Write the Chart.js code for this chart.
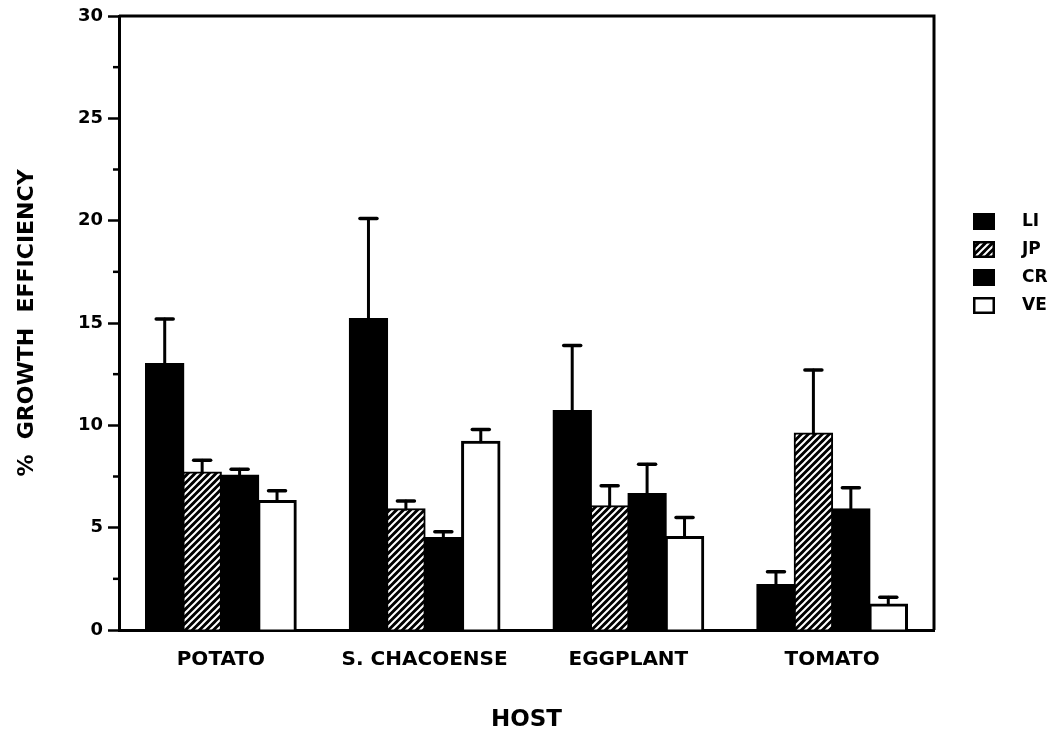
<!DOCTYPE html>
<html>
<head>
<meta charset="utf-8">
<script src="https://cdn.jsdelivr.net/npm/chart.js@4.4.0/dist/chart.umd.min.js"></script>
<style>
  body { margin: 0; background: #fff; }
</style>
</head>
<body>
<canvas id="grafico" width="1061" height="736"></canvas>
<script>
// hosts on the x axis
var hosts = ['POTATO', 'S. CHACOENSE', 'EGGPLANT', 'TOMATO'];

// mean % growth efficiency per isolate
var valoresLI = [13.0, 15.2, 10.7, 2.2];
var valoresJP = [7.7, 5.9, 6.05, 9.6];
var valoresCR = [7.55, 4.5, 6.65, 5.9];
var valoresVE = [6.3, 9.2, 4.55, 1.25];

// upper error (added on top of the mean)
var erroLI = [2.2, 4.9, 3.2, 0.65];
var erroJP = [0.6, 0.4, 1.0, 3.1];
var erroCR = [0.3, 0.3, 1.45, 1.05];
var erroVE = [0.5, 0.6, 0.95, 0.35];

var yTicks = [0, 5, 10, 15, 20, 25, 30];

var fonte = 'DejaVu Sans';

// hatch pattern for JP: white "/" stripes on black
function hachura() {
    var s = 7;
    var c = document.createElement('canvas');
    c.width = s; c.height = s;
    var g = c.getContext('2d');
    g.fillStyle = '#000';
    g.fillRect(0, 0, s, s);
    g.strokeStyle = '#fff';
    g.lineWidth = 2;
    g.beginPath();
    g.moveTo(-1, s + 1); g.lineTo(s + 1, -1);
    g.moveTo(-1, 1); g.lineTo(1, -1);
    g.moveTo(s - 1, s + 1); g.lineTo(s + 1, s - 1);
    g.stroke();
    return g.createPattern(c, 'repeat');
}

// upward error bars with a cap
var barrasErro = {
    id: 'barrasErro',
    afterDatasetsDraw: function(chart) {
        var ctx = chart.ctx, y = chart.scales.y;
        ctx.save();
        ctx.strokeStyle = '#000';
        ctx.lineCap = 'round';
        chart.data.datasets.forEach(function(ds, i) {
            chart.getDatasetMeta(i).data.forEach(function(bar, j) {
                var topo = y.getPixelForValue(ds.data[j] + ds.erros[j]);
                ctx.lineWidth = 3;
                ctx.beginPath();
                ctx.moveTo(bar.x, bar.y);
                ctx.lineTo(bar.x, topo);
                ctx.stroke();
                ctx.lineWidth = 3.5;
                ctx.beginPath();
                ctx.moveTo(bar.x - 8.5, topo);
                ctx.lineTo(bar.x + 8.5, topo);
                ctx.stroke();
            });
        });
        ctx.restore();
    }
};

// box around plot, minor ticks and the legend
var moldura = {
    id: 'moldura',
    afterDraw: function(chart) {
        var ctx = chart.ctx, a = chart.chartArea, y = chart.scales.y;
        ctx.save();
        ctx.strokeStyle = '#000';
        ctx.lineWidth = 3;
        ctx.beginPath();
        ctx.moveTo(a.left, a.top);
        ctx.lineTo(a.right, a.top);
        ctx.lineTo(a.right, a.bottom);
        ctx.stroke();

        // minor ticks halfway between labelled ticks
        ctx.lineWidth = 2.5;
        for (var k = 0; k < y.ticks.length - 1; k++) {
            var py = y.getPixelForValue((y.ticks[k].value + y.ticks[k + 1].value) / 2);
            ctx.beginPath();
            ctx.moveTo(a.left - 6, py);
            ctx.lineTo(a.left, py);
            ctx.stroke();
        }

        // legend
        var lx = a.right + 39, ly = a.top + 197;
        ctx.font = 'bold 17px "' + fonte + '"';
        ctx.textBaseline = 'middle';
        chart.data.datasets.forEach(function(ds, i) {
            var by = ly + i * 28;
            ctx.fillStyle = ds.backgroundColor;
            ctx.fillRect(lx, by, 22, 17);
            ctx.lineWidth = 2.5;
            ctx.strokeRect(lx + 1.25, by + 1.25, 19.5, 14.5);
            ctx.fillStyle = '#000';
            ctx.fillText(ds.label, lx + 49, by + 9);
        });
        ctx.restore();
    }
};

function criaGrafico(idGrafico) {
    var ctx = document.getElementById(idGrafico).getContext('2d');
    var padraoJP = hachura();
    var conjuntos = [
        { label: 'LI', data: valoresLI, erros: erroLI, backgroundColor: '#000', borderColor: '#000', borderWidth: 2 },
        { label: 'JP', data: valoresJP, erros: erroJP, backgroundColor: padraoJP, borderColor: '#000', borderWidth: 2 },
        { label: 'CR', data: valoresCR, erros: erroCR, backgroundColor: '#000', borderColor: '#000', borderWidth: 2 },
        { label: 'VE', data: valoresVE, erros: erroVE, backgroundColor: '#fff', borderColor: '#000', borderWidth: 3 }
    ];
    return new Chart(ctx, {
        type: 'bar',
        data: { labels: hosts, datasets: conjuntos },
        options: {
            responsive: false,
            animation: false,
            layout: { padding: { top: 16, right: 127, left: 0, bottom: 0 } },
            datasets: { bar: { barPercentage: 1.0, categoryPercentage: 0.735, borderSkipped: 'start', inflateAmount: 1 } },
            plugins: { legend: { display: false }, tooltip: { enabled: false } },
            scales: {
                x: {
                    grid: { display: true, drawOnChartArea: false, drawTicks: false },
                    border: { color: '#000', width: 3 },
                    ticks: { color: '#000', padding: 18, font: { family: fonte, weight: 'bold', size: 20 } },
                    title: { display: true, text: 'HOST', color: '#000', padding: { top: 0, bottom: 2 },
                             font: { family: fonte, weight: 'bold', size: 23 } },
                    afterFit: function(scale) { scale.height = 106; }
                },
                y: {
                    min: 0, max: 30,
                    afterBuildTicks: function(scale) {
                        scale.ticks = yTicks.map(function(v) { return { value: v }; });
                    },
                    grid: { drawOnChartArea: false, drawTicks: true, tickLength: 11, tickWidth: 2.5, tickColor: '#000' },
                    border: { color: '#000', width: 3 },
                    ticks: { color: '#000', padding: 5, font: { family: fonte, weight: 'bold', size: 18 } },
                    title: { display: true, text: '%  GROWTH  EFFICIENCY', color: '#000', padding: { top: 14, bottom: 0 },
                             font: { family: fonte, weight: 'bold', size: 22 } },
                    afterFit: function(scale) { scale.width = 119; }
                }
            }
        },
        plugins: [barrasErro, moldura]
    });
}

criaGrafico('grafico');
</script>
</body>
</html>
